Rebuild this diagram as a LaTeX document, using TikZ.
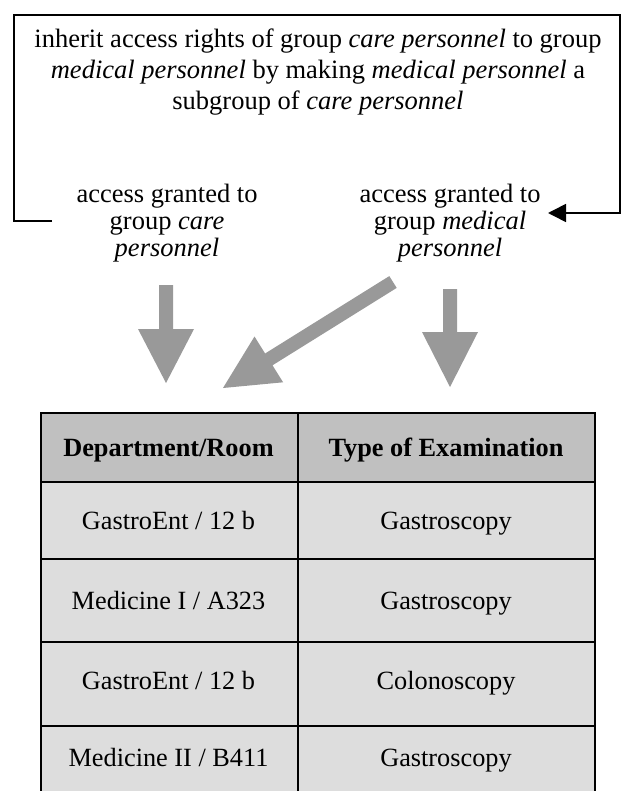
\documentclass[tikz,border=0pt]{standalone}
\usepackage{fontspec}
\setmainfont{Liberation Serif}
\usetikzlibrary{arrows.meta}
\definecolor{arrowgray}{RGB}{153,153,153}
\definecolor{headgray}{RGB}{192,192,192}
\definecolor{cellgray}{RGB}{221,221,221}
\begin{document}
\begin{tikzpicture}[x=1pt,y=-1pt,
  txt/.style={align=center,inner sep=0pt,font=\fontsize{26.5}{31}\selectfont},
  lbl/.style={align=center,inner sep=0pt,font=\fontsize{26.5}{27}\selectfont},
  frame/.style={draw=black,line width=1.6pt},
  blockarrow/.style={fill=arrowgray,draw=none},
  grid/.style={draw=black,line width=1.6pt},
  cell/.style={inner sep=0pt,text height=17pt,text depth=6pt,font=\fontsize{26.3}{28}\selectfont},
  headcell/.style={cell,font=\fontsize{26.3}{28}\selectfont\bfseries}]
\useasboundingbox (0,0) rectangle (623,791);
\fill[white] (0,0) rectangle (623,791);

% texts
\node[txt] (main) at (318,72) {inherit access rights of group \textit{care personnel} to group\\
  \textit{medical personnel} by making \textit{medical personnel} a\\
  subgroup of \textit{care personnel}};
\node[lbl] (lblL) at (167,223) {access granted to\\ group \textit{care}\\ \textit{personnel}};
\node[lbl] (lblR) at (450,223) {access granted to\\ group \textit{medical}\\ \textit{personnel}};

% frame connector
\coordinate (fa) at (52,221);
\coordinate (fb) at (548,213);
\draw[frame,-{Triangle[length=18pt,width=18pt]}] (fa) -- (14,221) -- (14,15) -- (620,15) -- (620,213) -- (fb);

% grey block arrows
\coordinate (tipL) at (166,383);
\coordinate (tipR) at (450,387);
\coordinate (tipD) at (223,388);
\fill[blockarrow] (159,285) -- (173,285) -- (173,329) -- (194,329) -- (tipL) -- (138,329) -- (159,329) -- cycle;
\fill[blockarrow] (443,289) -- (457,289) -- (457,332) -- (478,332) -- (tipR) -- (422,332) -- (443,332) -- cycle;
\fill[blockarrow] (389.3,276.1) -- (265.1,353.5) -- (254.5,336.5) -- (tipD) -- (283.1,382.3) -- (272.5,365.3) -- (396.7,287.9) -- cycle;

% table
\begin{scope}
\clip (0,0) rectangle (623,791);
\fill[headgray] (41,413) rectangle (595,482);
\fill[cellgray] (41,482) rectangle (595,812);
\draw[grid] (41,812) -- (41,413) -- (595,413) -- (595,812);
\draw[grid] (298,413) -- (298,812);
\draw[grid] (41,482) -- (595,482);
\draw[grid] (41,559) -- (595,559);
\draw[grid] (41,642) -- (595,642);
\draw[grid] (41,726) -- (595,726);
\end{scope}
\node[headcell] (h1) at (168.5,451) {Department/Room};
\node[headcell] (h2) at (446,451) {Type of Examination};
\node[cell] (c11) at (168.5,524) {GastroEnt / 12 b};
\node[cell] (c12) at (446,524) {Gastroscopy};
\node[cell] (c21) at (168.5,604) {Medicine I / A323};
\node[cell] (c22) at (446,604) {Gastroscopy};
\node[cell] (c31) at (168.5,684) {GastroEnt / 12 b};
\node[cell] (c32) at (446,684) {Colonoscopy};
\node[cell] (c41) at (168.5,761) {Medicine II / B411};
\node[cell] (c42) at (446,761) {Gastroscopy};
\end{tikzpicture}
\end{document}
